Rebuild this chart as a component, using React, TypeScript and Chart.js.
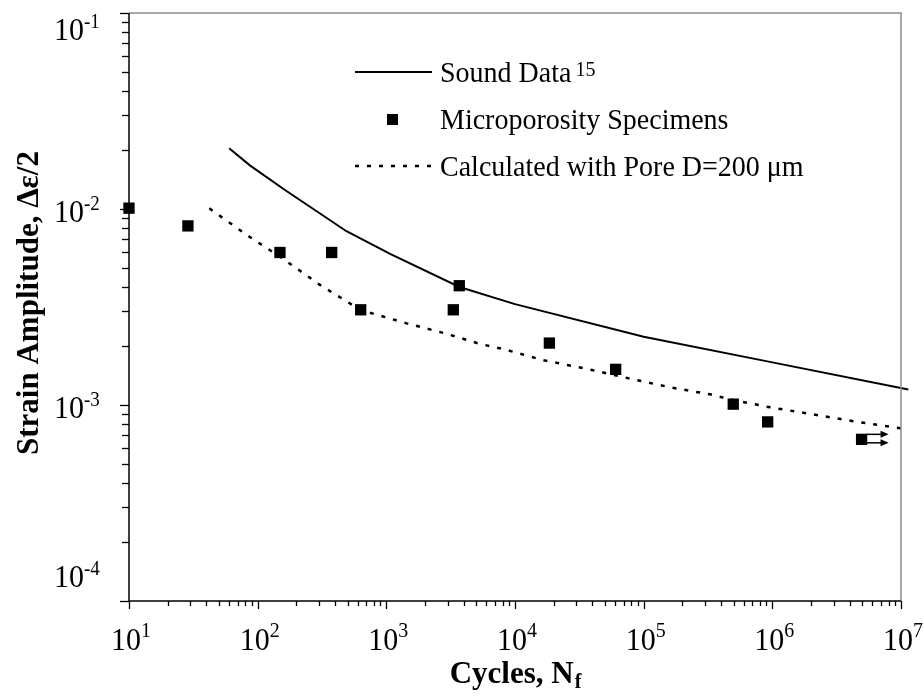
import React, { useEffect, useRef } from "react";
import { Chart, registerables } from "chart.js";

Chart.register(...registerables);

const SERIF = '"Liberation Serif", "Times New Roman", Times, serif';

// Sound data (solid line) – cycles vs strain amplitude
const soundCycles = [60, 87, 163, 490, 1070, 3700, 10000, 100000, 1000000, 11400000];
const soundStrain = [0.0204, 0.0167, 0.0125, 0.0077, 0.0059, 0.0040, 0.00327, 0.00223, 0.00165, 0.0012];

// Microporosity specimens (square markers)
const microCycles = [10, 28.7, 149, 376, 632, 3315, 3690, 18500, 60600, 497000, 920000, 4940000];
const microStrain = [0.0101, 0.0082, 0.006, 0.006, 0.00306, 0.00306, 0.00406, 0.00207, 0.00152, 0.00101, 0.00082, 0.000668];

// Calculated with pore D = 200 µm (dotted line)
const calcCycles = [42.1, 82.2, 149, 305, 632, 1440, 2857, 5346, 8356, 16120, 37580, 88260, 165100, 327600, 497000, 959000, 1850000, 4520000, 11400000];
const calcStrain = [0.01008, 0.00737, 0.00571, 0.0041, 0.00305, 0.00261, 0.00232, 0.00205, 0.00192, 0.0017, 0.00152, 0.00134, 0.001226, 0.001134, 0.00106, 0.000973, 0.000907, 0.000822, 0.00075];

// Axis decades (tick labels are 10^n)
const xExponents = [1, 2, 3, 4, 5, 6, 7];
const yExponents = [-4, -3, -2, -1];

const legendLabels = ["Sound Data", "Microporosity Specimens", "Calculated with Pore D=200 \u03bcm"];
const soundRef = "15";
const xTitle = "Cycles, N";
const xTitleSub = "f";
const yTitle = "Strain Amplitude, \u0394\u03b5/2";
const runoutIndex = 11; // run-out specimen (arrow)

function pts(xs: number[], ys: number[]) {
  return xs.map((x, i) => ({ x, y: ys[i] }));
}

const STRETCH = 1.08;
function txt(ctx: CanvasRenderingContext2D, s: string, x: number, y: number) {
  ctx.save();
  ctx.translate(x, y);
  ctx.scale(1, STRETCH);
  ctx.fillText(s, 0, 0);
  ctx.restore();
}

const decorPlugin = {
  id: "decor",
  afterDraw(chart: any) {
    const ctx: CanvasRenderingContext2D = chart.ctx;
    const { left, right, top, bottom } = chart.chartArea;
    const xs = chart.scales.x;
    const ys = chart.scales.y;
    ctx.save();

    // frame
    ctx.lineWidth = 1.5;
    ctx.strokeStyle = "#8c8c8c";
    ctx.beginPath();
    ctx.moveTo(left, top);
    ctx.lineTo(right, top);
    ctx.lineTo(right, bottom);
    ctx.stroke();
    ctx.strokeStyle = "#000";
    ctx.beginPath();
    ctx.moveTo(left, top);
    ctx.lineTo(left, bottom);
    ctx.lineTo(right, bottom);
    ctx.stroke();

    // tick marks
    ctx.lineWidth = 1.3;
    const xMin = Math.min(...xExponents), xMax = Math.max(...xExponents);
    for (let e = xMin; e <= xMax; e++) {
      for (let m = 1; m <= 9; m++) {
        if (e === xMax && m > 1) break;
        const v = m * Math.pow(10, e);
        const px = Math.round(xs.getPixelForValue(v)) + 0.5;
        ctx.beginPath();
        ctx.moveTo(px, bottom);
        ctx.lineTo(px, bottom + (m === 1 ? 8 : 5));
        ctx.stroke();
      }
    }
    const yMin = Math.min(...yExponents), yMax = Math.max(...yExponents);
    for (let e = yMin; e <= yMax; e++) {
      for (let m = 1; m <= 9; m++) {
        if (e === yMax && m > 1) break;
        const v = m * Math.pow(10, e);
        const py = Math.round(ys.getPixelForValue(v)) + 0.5;
        ctx.beginPath();
        ctx.moveTo(left - (m === 1 ? 9 : 7), py);
        ctx.lineTo(left, py);
        ctx.stroke();
      }
    }

    ctx.fillStyle = "#000";
    ctx.textBaseline = "alphabetic";

    // x tick labels
    const mainFont = `30px ${SERIF}`;
    const supFontX = `20px ${SERIF}`;
    for (const e of xExponents) {
      const px = xs.getPixelForValue(Math.pow(10, e));
      ctx.font = mainFont;
      const w1 = ctx.measureText("10").width;
      ctx.font = supFontX;
      const sup = String(e);
      const w2 = ctx.measureText(sup).width;
      const x0 = px - (w1 + w2) / 2 + 2;
      ctx.font = mainFont;
      ctx.textAlign = "left";
      txt(ctx, "10", x0, 650);
      ctx.font = supFontX;
      txt(ctx, sup, x0 + w1, 637);
    }

    // y tick labels
    const supFontY = `19px ${SERIF}`;
    for (const e of yExponents) {
      const py = ys.getPixelForValue(Math.pow(10, e));
      const c = Math.min(Math.max(py + 2, top + 16), bottom - 25);
      ctx.font = mainFont;
      ctx.textAlign = "right";
      txt(ctx, "10", 84, c + 11);
      ctx.font = supFontY;
      ctx.textAlign = "left";
      txt(ctx, String(e), 84, c - 1);
    }

    // x title
    ctx.font = `bold 31px ${SERIF}`;
    const tw1 = ctx.measureText(xTitle).width;
    ctx.font = `bold 20px ${SERIF}`;
    const tw2 = ctx.measureText(xTitleSub).width;
    const tx = (left + right) / 2 - (tw1 + tw2) / 2;
    ctx.textAlign = "left";
    ctx.font = `bold 31px ${SERIF}`;
    ctx.fillText(xTitle, tx, 683);
    ctx.font = `bold 20px ${SERIF}`;
    ctx.fillText(xTitleSub, tx + tw1 + 1, 688);

    // y title
    ctx.save();
    ctx.translate(38, 303);
    ctx.rotate(-Math.PI / 2);
    ctx.font = `bold 31px ${SERIF}`;
    ctx.textAlign = "center";
    ctx.fillText(yTitle, 0, 0);
    ctx.restore();

    // legend
    ctx.strokeStyle = "#000";
    ctx.lineWidth = 2;
    ctx.setLineDash([]);
    ctx.beginPath();
    ctx.moveTo(355, 72);
    ctx.lineTo(432, 72);
    ctx.stroke();
    ctx.fillRect(387, 114, 11, 11);
    ctx.lineWidth = 2.5;
    ctx.setLineDash([4, 8]);
    ctx.beginPath();
    ctx.moveTo(355, 166);
    ctx.lineTo(431, 166);
    ctx.stroke();
    ctx.setLineDash([]);
    ctx.font = `28px ${SERIF}`;
    ctx.textAlign = "left";
    txt(ctx, legendLabels[0], 440, 82);
    const lw = ctx.measureText(legendLabels[0]).width;
    txt(ctx, legendLabels[1], 440, 129);
    txt(ctx, legendLabels[2], 440, 176);
    ctx.font = `20px ${SERIF}`;
    txt(ctx, soundRef, 440 + lw + 4, 76);

    // run-out arrows
    const pt = chart.getDatasetMeta(0).data[runoutIndex];
    if (pt) {
      const x = pt.x, y = pt.y;
      ctx.lineWidth = 1.5;
      for (const dy of [-5, 3.5]) {
        ctx.beginPath();
        ctx.moveTo(x + 5, y + dy);
        ctx.lineTo(x + 22, y + dy);
        ctx.stroke();
        ctx.beginPath();
        ctx.moveTo(x + 27, y + dy);
        ctx.lineTo(x + 19, y + dy - 3.5);
        ctx.lineTo(x + 19, y + dy + 3.5);
        ctx.closePath();
        ctx.fill();
      }
    }
    ctx.restore();
  },
};

export default function App() {
  const ref = useRef<HTMLCanvasElement>(null);
  useEffect(() => {
    document.body.style.margin = "0";
    const canvas = ref.current!;
    const chart = new Chart(canvas, {
      type: "scatter",
      data: {
        datasets: [
          {
            label: legendLabels[1],
            data: pts(microCycles, microStrain),
            pointStyle: "rect",
            pointRadius: 8,
            pointBackgroundColor: "#000",
            pointBorderColor: "#000",
            pointBorderWidth: 0,
            showLine: false,
            clip: 20,
            order: 0,
          } as any,
          {
            label: legendLabels[0],
            data: pts(soundCycles, soundStrain),
            showLine: true,
            borderColor: "#000",
            borderWidth: 2,
            pointRadius: 0,
            clip: { left: 0, top: 0, right: 8, bottom: 0 },
            order: 1,
          } as any,
          {
            label: legendLabels[2],
            data: pts(calcCycles, calcStrain),
            showLine: true,
            borderColor: "#000",
            borderWidth: 2.5,
            borderDash: [4, 8],
            pointRadius: 0,
            clip: { left: 0, top: 0, right: 8, bottom: 0 },
            order: 2,
          } as any,
        ],
      },
      options: {
        responsive: false,
        animation: false,
        devicePixelRatio: 1,
        layout: { padding: { left: 0, top: 13, right: 23, bottom: 0 } },
        plugins: { legend: { display: false }, tooltip: { enabled: false } },
        scales: {
          x: {
            type: "logarithmic",
            min: 10,
            max: 1e7,
            ticks: { display: false },
            grid: { display: false },
            border: { display: false },
            afterFit: (s: any) => {
              s.height = 97;
            },
          },
          y: {
            type: "logarithmic",
            min: 1e-4,
            max: 1e-1,
            ticks: { display: false },
            grid: { display: false },
            border: { display: false },
            afterFit: (s: any) => {
              s.width = 129;
            },
          },
        },
      } as any,
      plugins: [decorPlugin],
    });
    return () => chart.destroy();
  }, []);
  return <canvas ref={ref} width={924} height={698} style={{ display: "block" }} />;
}
